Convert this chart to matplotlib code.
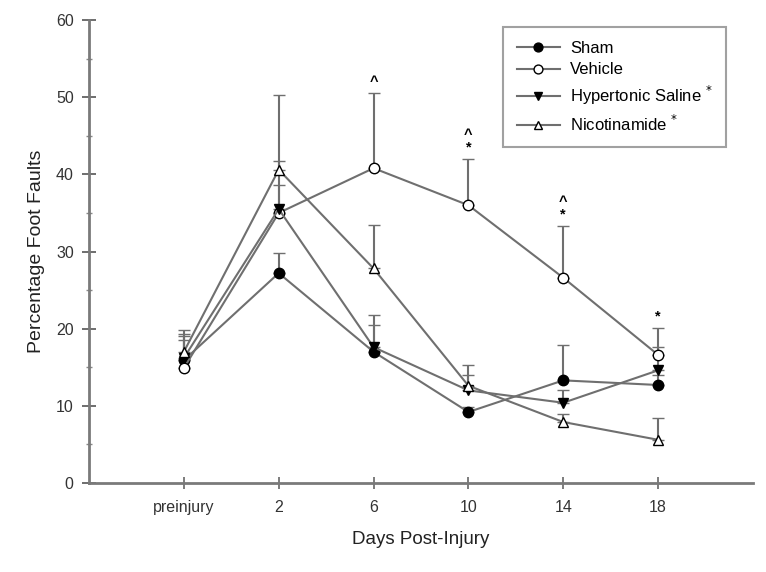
import matplotlib.pyplot as plt
import numpy as np

plt.rcParams['font.family'] = ['Liberation Sans', 'DejaVu Sans']

# Days post-injury (categorical)
days = ['preinjury', '2', '6', '10', '14', '18']

# Group means
sham = [15.9, 27.2, 17.0, 9.2, 13.3, 12.7]
vehicle = [14.9, 35.0, 40.8, 36.0, 26.6, 16.6]
saline = [16.2, 35.5, 17.6, 12.0, 10.4, 14.6]
nicotinamide = [17.0, 40.6, 27.8, 12.6, 7.9, 5.6]

# Tops of the (upper-only) error bars
sham_top = [18.5, 29.8, 20.5, 9.8, 17.9, 14.0]
vehicle_top = [19.0, 41.7, 50.5, 42.0, 33.3, 20.1]
saline_top = [19.3, 38.6, 21.8, 15.3, 12.0, 17.6]
nicotinamide_top = [19.8, 50.3, 33.4, 14.0, 9.0, 8.4]

# Significance marks above the vehicle group (day index -> text)
marks = {2: '^', 3: '^\n*', 4: '^\n*', 5: '*'}

x = np.arange(len(days))
grey = '#6f6f6f'

fig = plt.figure(figsize=(7.66, 5.72), dpi=100)
ax = fig.add_axes([0.1162, 0.1556, 0.8668, 0.8094])

series = [
    ('Sham', sham, sham_top, 'o', 'black'),
    ('Vehicle', vehicle, vehicle_top, 'o', 'white'),
    ('Hypertonic Saline $^{*}$', saline, saline_top, 'v', 'black'),
    ('Nicotinamide $^{*}$', nicotinamide, nicotinamide_top, '^', 'white'),
]

handles = []
labels = []
for label, mean, top, marker, face in series:
    mean = np.array(mean)
    upper = np.array(top) - mean
    eb = ax.errorbar(x, mean, yerr=[np.zeros_like(upper), upper], color=grey,
                     ecolor=grey, elinewidth=1.5, capsize=4.5, capthick=1.5,
                     lw=1.5, marker=marker, ms=7.5, mfc=face, mec='black',
                     mew=1.0, zorder=3)
    handles.append(eb[0])
    labels.append(label)

for i, txt in marks.items():
    ax.annotate(txt, xy=(x[i], vehicle_top[i]), xytext=(0, 3),
                textcoords='offset points', ha='center', va='bottom',
                fontsize=10.5, fontweight='bold', linespacing=0.9)

ax.set_xlim(-1, 6)
ax.set_ylim(0, 60)
ax.set_xticks(x)
ax.set_xticklabels(days)
ax.set_yticks(np.arange(0, 61, 10))
ax.set_yticks(np.arange(5, 60, 10), minor=True)

for s in ['top', 'right']:
    ax.spines[s].set_visible(False)
for s in ['left', 'bottom']:
    ax.spines[s].set_color('#7a7a7a')
    ax.spines[s].set_linewidth(2)

ax.tick_params(axis='y', which='major', direction='inout', length=10,
               width=1.2, color='#555555', labelsize=11.5, labelcolor='#333333', pad=6)
ax.tick_params(axis='y', which='minor', direction='inout', length=4,
               width=1, color='#888888')
ax.tick_params(axis='x', direction='inout', length=8, width=1.2,
               color='#666666', labelsize=11.5, labelcolor='#333333', pad=8)

ax.set_xlabel('Days Post-Injury', fontsize=13.5, color='#222222', labelpad=12)
ax.set_ylabel('Percentage Foot Faults', fontsize=14, color='#222222', labelpad=8)

leg = ax.legend(handles, labels, loc='upper left', bbox_to_anchor=(0.624, 0.984),
                fontsize=12, frameon=True, fancybox=False, markerscale=0.85,
                handlelength=2.6, handletextpad=0.6, borderpad=0.8,
                labelspacing=0.4, borderaxespad=0)
leg.get_frame().set_edgecolor('#8a8a8a')
leg.get_frame().set_linewidth(1.5)

fig.savefig('out.png', dpi=100)
